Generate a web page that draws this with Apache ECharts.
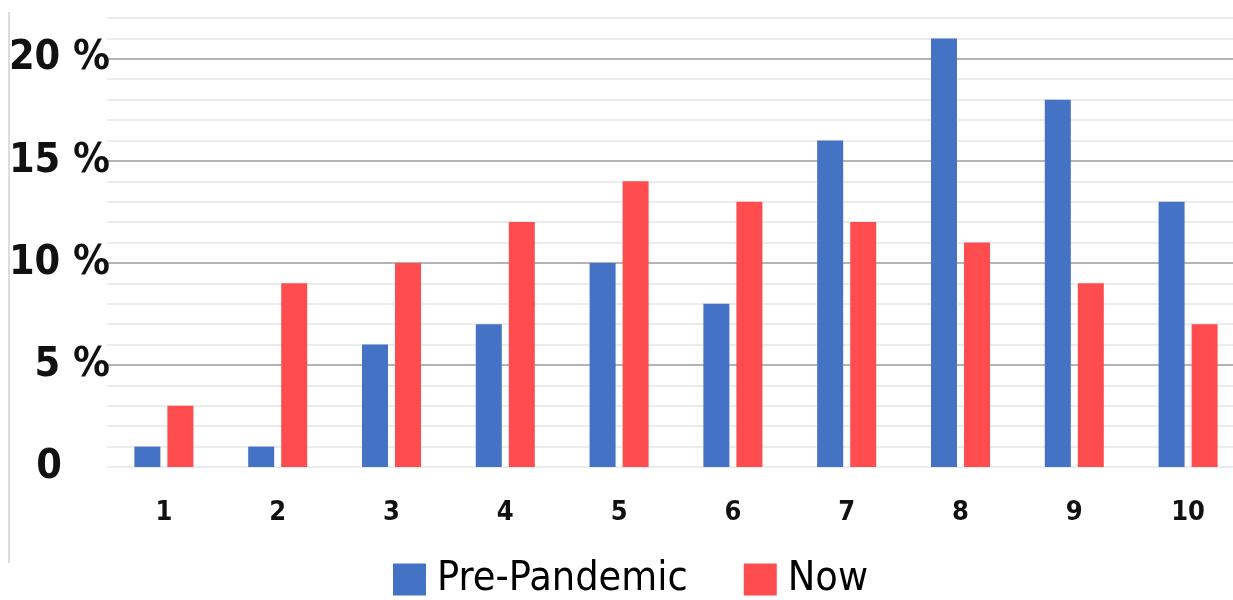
<!DOCTYPE html>
<html>
<head>
<meta charset="utf-8">
<script src="https://cdn.jsdelivr.net/npm/echarts@6/dist/echarts.min.js"></script>
<style>
html,body{margin:0;padding:0;background:#fff;overflow:hidden;}
#chart{width:1252px;height:600px;}
</style>
</head>
<body>
<div id="chart"></div>
<script>
const categories = ['1','2','3','4','5','6','7','8','9','10'];
const prePandemic = [1, 1, 6, 7, 10, 8, 16, 21, 18, 13];
const now = [3, 9, 10, 12, 14, 13, 12, 11, 9, 7];
const seriesNames = ['Pre-Pandemic', 'Now'];

const FONT = "'Liberation Sans Narrow', 'DejaVu Sans Condensed', 'Roboto', sans-serif";
const gridColors = [];
for (let i = 0; i <= 22; i++) {
  gridColors.push(i % 5 === 0 && i !== 0 ? '#b4b4b4' : '#ececec');
}

const chart = echarts.init(document.getElementById('chart'), null, {renderer: 'canvas'});
chart.setOption({
  animation: false,
  backgroundColor: '#ffffff',
  graphic: [{
    type: 'line',
    shape: {x1: 9, y1: 12, x2: 9, y2: 563},
    style: {stroke: '#dcdcdc', lineWidth: 2}
  }],
  grid: {left: 107, right: 7, top: 18, bottom: 133, containLabel: false},
  legend: {
    data: seriesNames,
    left: 388,
    top: 554,
    itemWidth: 33,
    itemHeight: 32,
    itemGap: 56,
    icon: 'rect',
    textStyle: {fontFamily: FONT, fontSize: 41, color: '#000', padding: [0, 0, 0, 6]}
  },
  xAxis: {
    type: 'category',
    data: categories,
    axisLine: {show: false},
    axisTick: {show: false},
    axisLabel: {fontFamily: FONT, fontSize: 27, fontWeight: 'bold', color: '#111', margin: 32}
  },
  yAxis: {
    type: 'value',
    min: 0,
    max: 22,
    interval: 1,
    axisLine: {show: false},
    axisTick: {show: false},
    splitLine: {show: true, lineStyle: {color: gridColors, width: 2}},
    axisLabel: {
      fontFamily: FONT, fontSize: 41, fontWeight: 'bold', color: '#111', margin: -3,
      formatter: function (v) {
        if (v % 5 !== 0) return '';
        if (v === 0) return '{z|0}';
        return v + ' %';
      },
      rich: {z: {fontFamily: FONT, fontSize: 41, fontWeight: 'bold', color: '#111', padding: [0, 48, 0, 0]}}
    }
  },
  series: [
    {name: seriesNames[0], type: 'bar', data: prePandemic, barWidth: 26, barGap: '27%',
     itemStyle: {color: '#4472c4'}},
    {name: seriesNames[1], type: 'bar', data: now, barWidth: 26,
     itemStyle: {color: '#ff4d4f'}}
  ]
});
</script>
</body>
</html>
